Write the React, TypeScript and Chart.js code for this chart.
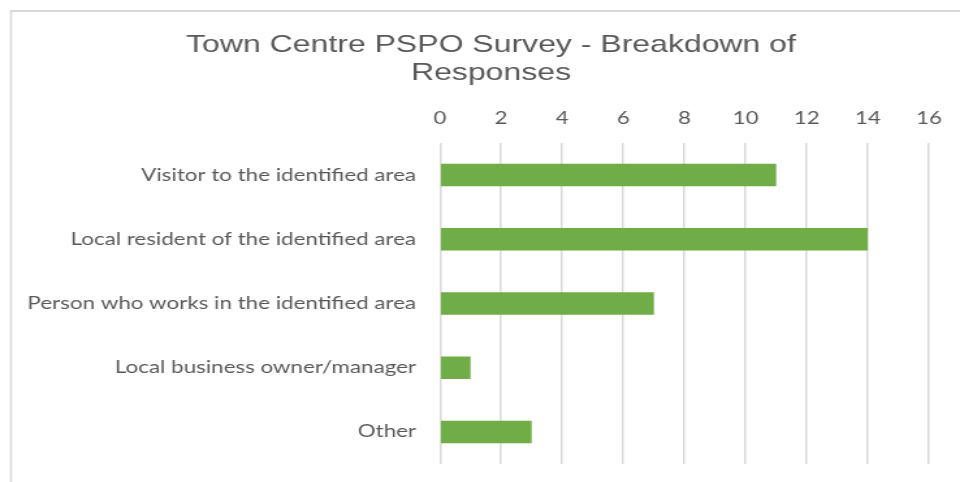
import React, { useEffect, useRef } from "react";
import { Chart, registerables } from "chart.js";

Chart.register(...registerables);

const categories = [
  "Visitor to the identified area",
  "Local resident of the identified area",
  "Person who works in the identified area",
  "Local business owner/manager",
  "Other",
];
const responses = [11, 14, 7, 1, 3];
const titleLines = ["Town Centre PSPO Survey - Breakdown of", "Responses"];

// The reference is horizontally stretched; render narrower and stretch with CSS.
const DISPLAY_W = 960;
const DISPLAY_H = 482;
const CANVAS_W = 738;
const SX = DISPLAY_W / CANVAS_W;

const framePlugin = {
  id: "frame",
  afterLayout(chart: any) {
    const tb = chart.titleBlock;
    if (tb) {
      const center = 491 / SX;
      const half = 330 / SX;
      tb.left = center - half;
      tb.right = center + half;
      tb.width = 2 * half;
    }
  },
  beforeDraw(chart: any) {
    const ctx = chart.ctx;
    const x = 11 / SX;
    ctx.save();
    ctx.strokeStyle = "#d9d9d9";
    ctx.lineWidth = 2 / SX;
    ctx.beginPath();
    ctx.moveTo(x, chart.height + 2);
    ctx.lineTo(x, 11);
    ctx.stroke();
    ctx.lineWidth = 2;
    ctx.beginPath();
    ctx.moveTo(x - 1 / SX, 11);
    ctx.lineTo(chart.width + 2, 11);
    ctx.stroke();
    ctx.restore();
  },
};

export default function App() {
  const ref = useRef<HTMLCanvasElement>(null);
  useEffect(() => {
    document.body.style.margin = "0";
    const plotLeft = 440 / SX;
    const plotRight = 930 / SX;
    const padRight = CANVAS_W - plotRight;
    const padLeft = 14 / SX;
    const chart = new Chart(ref.current!, {
      type: "bar",
      data: {
        labels: categories,
        datasets: [
          {
            data: responses,
            backgroundColor: "#70ad47",
            barPercentage: 0.7,
            categoryPercentage: 0.5,
          },
        ],
      },
      plugins: [framePlugin],
      options: {
        indexAxis: "y",
        animation: false,
        responsive: false,
        devicePixelRatio: 1,
        layout: { padding: { left: padLeft, right: padRight, top: 0, bottom: 18 } },
        plugins: {
          legend: { display: false },
          tooltip: { enabled: false },
          title: {
            display: true,
            text: titleLines,
            color: "#595959",
            font: { family: "'Liberation Sans', Arial", size: 24.6, weight: "normal", lineHeight: 28 / 24.6 },
            padding: { top: 31, bottom: 10 },
          },
        },
        scales: {
          x: {
            position: "top",
            min: 0,
            max: 16,
            ticks: {
              stepSize: 2,
              color: "#595959",
              font: { family: "Lato", size: 17 },
              padding: 14,
            },
            grid: { color: "#d9d9d9", lineWidth: 1.5, drawTicks: false },
            border: { display: false },
            afterFit(scale: any) {
              scale.height = 46;
            },
          },
          y: {
            ticks: {
              color: "#595959",
              font: { family: "Lato", size: 17.2 },
              padding: (440 - 416) / SX,
            },
            grid: { display: false, drawTicks: false },
            border: { display: false },
            afterFit(scale: any) {
              scale.width = plotLeft - padLeft;
              scale.paddingTop = 0;
              scale.paddingBottom = 0;
            },
          },
        },
      },
    });
    return () => chart.destroy();
  }, []);
  return (
    <canvas
      ref={ref}
      width={CANVAS_W}
      height={DISPLAY_H}
      style={{ display: "block", width: DISPLAY_W + "px", height: DISPLAY_H + "px" }}
    />
  );
}
